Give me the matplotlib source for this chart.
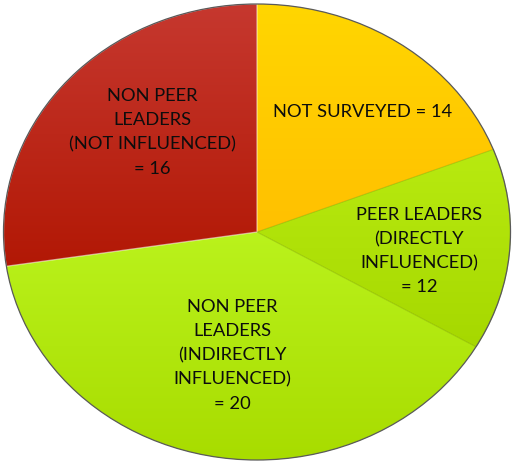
import numpy as np
import matplotlib
matplotlib.use("Agg")
import matplotlib.pyplot as plt
from matplotlib.colors import LinearSegmentedColormap
from matplotlib.patches import Circle, Wedge

# ---- data ----
categories = ["NOT SURVEYED",
              "PEER LEADERS\n(DIRECTLY\nINFLUENCED)",
              "NON PEER\nLEADERS\n(INDIRECTLY\nINFLUENCED)",
              "NON PEER\nLEADERS\n(NOT INFLUENCED)"]
counts = [14, 12, 20, 16]
# slice sizes as drawn in the reference picture (percent of the circle)
slice_shares = [19.1, 14.3, 39.2, 27.4]

# ---- style ----
top_colors = ["#FFD600", "#B8EA10", "#BAF21C", "#C6382F"]
bottom_colors = ["#FFC000", "#A6D800", "#A8DC00", "#B21805"]
label_dist = [0.67, 0.645, 0.55, 0.60]
label_angle_offset = [-4.0, -3.0, 0.5, -6.0]
label_sep = [" = ", "\n= ", "\n= ", "\n= "]

W, H = 512, 462
cx, cy, rx, ry = 257, 232, 253.5, 228

plt.rcParams['font.family'] = ['Lato', 'DejaVu Sans']
fig = plt.figure(figsize=(W / 100, H / 100), dpi=100)
ax = fig.add_axes([0, 0, 1, 1])

wedges, _ = ax.pie(slice_shares, startangle=90, counterclock=False,
                   radius=1, center=(0, 0),
                   wedgeprops=dict(linewidth=0, edgecolor='none'))
for w, c in zip(wedges, bottom_colors):
    w.set_facecolor(c)
    w.set_zorder(1)

grad = np.linspace(0, 1, 256).reshape(-1, 1)
for w, t, b in zip(wedges, top_colors, bottom_colors):
    ext = w.get_path().get_extents()
    cmap = LinearSegmentedColormap.from_list("g", [t, b])
    im = ax.imshow(grad, cmap=cmap, aspect='auto', origin='upper',
                   extent=[ext.x0, ext.x1, ext.y0, ext.y1],
                   interpolation='bicubic', zorder=2)
    im.set_clip_path(w)

# subtle separators
red = wedges[3]
ax.add_patch(Wedge((0, 0), 1, red.theta1, red.theta2, facecolor='none',
                   edgecolor=(1, 1, 1, 0.55), linewidth=0.9, zorder=3))
pw = wedges[1]
ax.add_patch(Wedge((0, 0), 1, pw.theta1, pw.theta2, facecolor='none',
                   edgecolor=(0.4, 0.5, 0.0, 0.25), linewidth=0.8, zorder=3))

# outer outline
ax.add_patch(Circle((0, 0), 1, facecolor='none', edgecolor='#5a5a5a',
                    linewidth=0.9, zorder=4))

for w, cat, n, d, off, sep in zip(wedges, categories, counts, label_dist,
                                  label_angle_offset, label_sep):
    mid = np.deg2rad((w.theta1 + w.theta2) / 2 + off)
    ax.text(d * np.cos(mid), d * np.sin(mid), f"{cat}{sep}{n}",
            ha='center', va='center', fontsize=13.2, color='#0d0d0d',
            linespacing=1.62, zorder=5)

ax.set_aspect('auto')
ax.set_xlim((0 - cx) / rx, (W - cx) / rx)
ax.set_ylim((cy - H) / ry, cy / ry)
ax.axis('off')

fig.savefig("out.png", dpi=100)
